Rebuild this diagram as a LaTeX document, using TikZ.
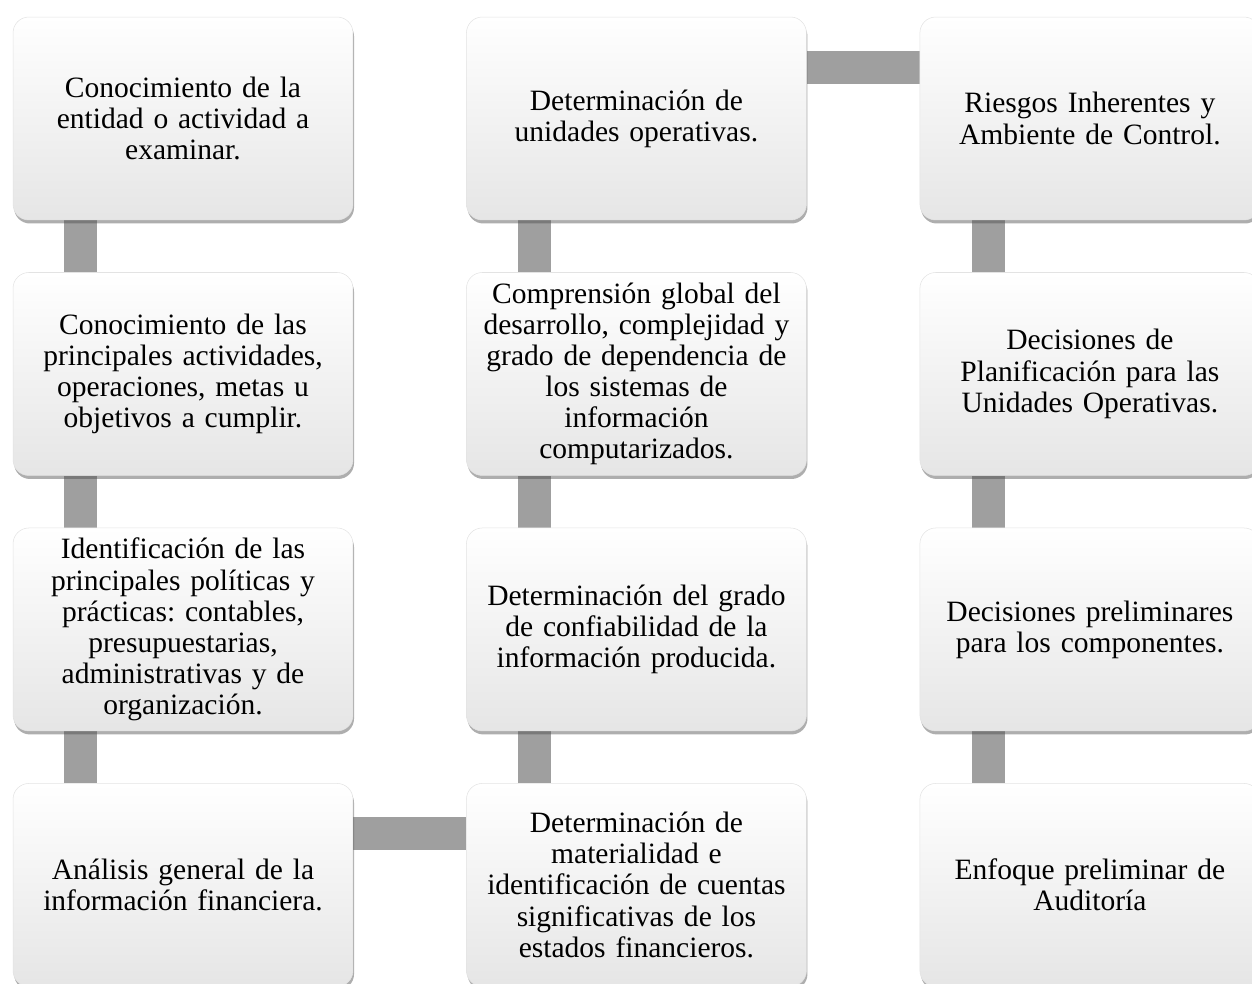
\documentclass[tikz,border=0pt]{standalone}
\usepackage{fontspec}
\setmainfont{Liberation Serif}
\usetikzlibrary{positioning,shadows,backgrounds}
\frenchspacing

\begin{document}
\begin{tikzpicture}[x=0.02cm,y=-0.02cm,node distance=1.04cm and 2.26cm,
paso/.style = {rounded corners=9pt, minimum width=6.8cm, minimum height=4.06cm, inner sep=0pt,
  text width=6.6cm, align=center, font=\fontsize{16.8}{17.7}\selectfont,
  top color=white, middle color=white, bottom color=gray!20, draw=gray!22, line width=0.3pt,
  drop shadow={shadow xshift=0.6pt, shadow yshift=-2pt, opacity=0.45, fill=black!70}},
enlace/.style = {line width=0.66cm, draw=gray!75},]
\useasboundingbox (0,0) rectangle (1252,984);
\node (A1) at (183,118.5)[paso] {Conocimiento de la\\ entidad o actividad a\\ examinar.};
\node (A2) [paso,below=of A1] {Conocimiento de las\\ principales actividades,\\ operaciones, metas u\\ objetivos a cumplir.};
\node (A3) [paso,below=of A2] {Identificación de las\\ principales políticas y\\ prácticas: contables,\\ presupuestarias,\\ administrativas y de\\ organización.};
\node (A4) [paso,below=of A3] {Análisis general de la\\ información financiera.};
\node (B1) [paso,right=of A1] {Determinación de\\ unidades operativas.};
\node (B2) [paso,right=of A2] {Comprensión global del\\ desarrollo, complejidad y\\ grado de dependencia de\\ los sistemas de\\ información\\ computarizados.};
\node (B3) [paso,right=of A3] {Determinación del grado\\ de confiabilidad de la\\ información producida.};
\node (B4) [paso,right=of A4] {Determinación de\\ materialidad e\\ identificación de cuentas\\ significativas de los\\ estados financieros.};
\node (C1) [paso,right=of B1] {Riesgos Inherentes y\\ Ambiente de Control.};
\node (C2) [paso,right=of B2] {Decisiones de\\ Planificación para las\\ Unidades Operativas.};
\node (C3) [paso,right=of B3] {Decisiones preliminares\\ para los componentes.};
\node (C4) [paso,right=of B4] {Enfoque preliminar de\\ Auditoría};
\begin{scope}[on background layer]
\draw[enlace] ([xshift=1.36cm]A1.south west) -- ([xshift=1.36cm]A2.north west);
\draw[enlace] ([xshift=1.36cm]A2.south west) -- ([xshift=1.36cm]A3.north west);
\draw[enlace] ([xshift=1.36cm]A3.south west) -- ([xshift=1.36cm]A4.north west);
\draw[enlace] ([yshift=-1cm]A4.north east) -- ([yshift=-1cm]B4.north west);
\draw[enlace] ([xshift=1.36cm]B4.north west) -- ([xshift=1.36cm]B3.south west);
\draw[enlace] ([xshift=1.36cm]B3.north west) -- ([xshift=1.36cm]B2.south west);
\draw[enlace] ([xshift=1.36cm]B2.north west) -- ([xshift=1.36cm]B1.south west);
\draw[enlace] ([yshift=-1.02cm]B1.north east) -- ([yshift=-1.02cm]C1.north west);
\draw[enlace] ([xshift=1.38cm]C1.south west) -- ([xshift=1.38cm]C2.north west);
\draw[enlace] ([xshift=1.38cm]C2.south west) -- ([xshift=1.38cm]C3.north west);
\draw[enlace] ([xshift=1.38cm]C3.south west) -- ([xshift=1.38cm]C4.north west);
\end{scope}
\end{tikzpicture}
\end{document}
